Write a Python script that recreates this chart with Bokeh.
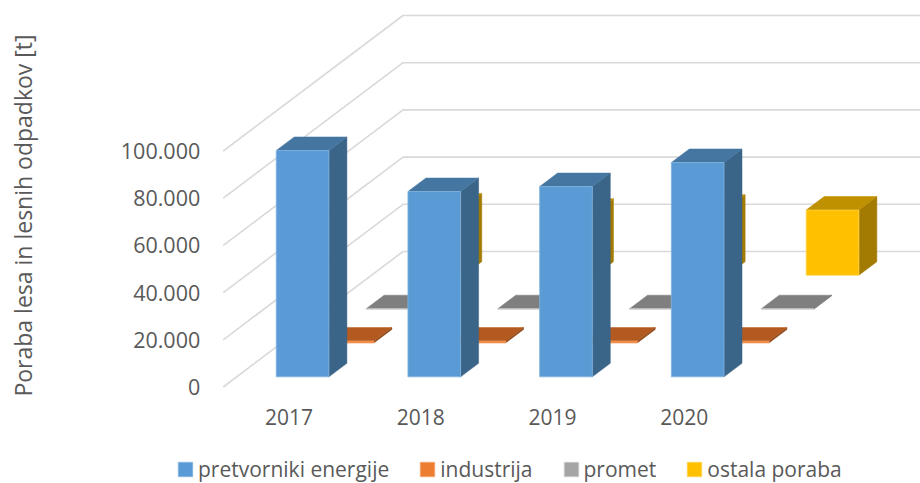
from bokeh.plotting import figure
from bokeh.models import LinearAxis, FixedTicker, Range1d, Legend, LegendItem, Label
from bokeh.embed import file_html
from bokeh.resources import INLINE

years = ["2017", "2018", "2019", "2020"]
series_names = ["pretvorniki energije", "industrija", "promet", "ostala poraba"]
pretvorniki = [95900, 78500, 80600, 90800]
industrija = [800, 800, 800, 800]
promet = [150, 150, 150, 150]
ostala = [28900, 26700, 28400, 27600]
y_ticks = [0, 20000, 40000, 60000, 80000, 100000]
y_tick_labels = ["0", "20.000", "40.000", "60.000", "80.000", "100.000"]
y_title = "Poraba lesa in lesnih odpadkov [t]"

front_colors = ["#5B9BD5", "#ED7D31", "#A5A5A5", "#FFC000"]
top_colors = ["#4576A2", "#B35A20", "#7F7F7F", "#BF9000"]
side_colors = ["#3A6488", "#8F4A1B", "#636363", "#A37B00"]
edge_colors = ["#82B4E0", "#F4A26B", "#C8C8C8", "#FFD34D"]
GRID = "#D9D9D9"
TEXT = "#595959"
FONT = "Open Sans"

W, H = 920, 483
PX_PER_CAT = 131.7
PX_PER_VAL = 0.00236
X0_PX, Y0_PX = 288.6, 386.5
DEPTH_X = 179.8 / PX_PER_CAT
DEPTH_Y = 135.5 / PX_PER_VAL
BAR_W = 0.4
ROW_STEP, ROW_START, ROW_DEPTH = 0.25, 0.075, 0.1
RIGHT = (920 - X0_PX) / PX_PER_CAT

p = figure(width=W, height=H, output_backend="svg", toolbar_location=None,
           x_axis_location=None, y_axis_location=None,
           x_range=Range1d((0 - X0_PX) / PX_PER_CAT, (W - X0_PX) / PX_PER_CAT),
           y_range=Range1d((Y0_PX - H) / PX_PER_VAL, Y0_PX / PX_PER_VAL),
           min_border=0, outline_line_color=None, background_fill_color=None,
           border_fill_color=None)
p.grid.visible = False


def proj(x, v, d):
    return x + d * DEPTH_X, v + d * DEPTH_Y


gx, gy = [], []
for t in y_ticks:
    a = proj(-0.5, t, 0)
    b = proj(-0.5, t, 1)
    gx.append([a[0], b[0], RIGHT])
    gy.append([a[1], b[1], b[1]])
p.multi_line(gx, gy, line_color=GRID, line_width=1.6)

all_series = [pretvorniki, industrija, promet, ostala]
legend_renderers = [None] * 4

for r in range(3, -1, -1):
    d0 = ROW_START + r * ROW_STEP
    d1 = d0 + ROW_DEPTH
    for c, val in enumerate(all_series[r]):
        xl, xr = c - BAR_W / 2, c + BAR_W / 2
        top = [proj(xl, val, d0), proj(xr, val, d0), proj(xr, val, d1), proj(xl, val, d1)]
        side = [proj(xr, 0, d0), proj(xr, 0, d1), proj(xr, val, d1), proj(xr, val, d0)]
        p.patch([q[0] for q in side], [q[1] for q in side], fill_color=side_colors[r],
                line_color=side_colors[r], line_width=0.5)
        p.patch([q[0] for q in top], [q[1] for q in top], fill_color=top_colors[r],
                line_color=top_colors[r], line_width=0.5)
        fx0, fv0 = proj(xl, 0, d0)
        fx1, fv1 = proj(xr, val, d0)
        rend = p.quad(left=[fx0], right=[fx1], bottom=[fv0], top=[fv1],
                      fill_color=front_colors[r], line_color=edge_colors[r], line_width=0.8)
        if legend_renderers[r] is None:
            legend_renderers[r] = rend

y_axis = LinearAxis(fixed_location=-0.5, ticker=FixedTicker(ticks=y_ticks),
                    major_label_overrides=dict(zip(y_ticks, y_tick_labels)),
                    major_tick_line_color=None, minor_tick_line_color=None,
                    axis_line_color=None, major_label_standoff=17,
                    major_label_text_color=TEXT, major_label_text_font=FONT,
                    major_label_text_font_size="21.5px")
p.add_layout(y_axis, "left")

x_ticks = list(range(len(years)))
x_axis = LinearAxis(fixed_location=0, ticker=FixedTicker(ticks=x_ticks),
                    major_label_overrides=dict(zip(x_ticks, years)),
                    major_tick_line_color=None, minor_tick_line_color=None,
                    axis_line_color=None, major_label_standoff=16,
                    major_label_text_color=TEXT, major_label_text_font=FONT,
                    major_label_text_font_size="21px")
p.add_layout(x_axis, "below")

p.add_layout(Label(x=22, y=H - 215, x_units="screen", y_units="screen",
                   text=y_title, angle=90, angle_units="deg",
                   text_align="center", text_baseline="middle",
                   text_color=TEXT, text_font=FONT, text_font_size="23px"))

legend = Legend(items=[LegendItem(label=n, renderers=[rr]) for n, rr in zip(series_names, legend_renderers)],
                orientation="horizontal", location=(176, 0),
                background_fill_alpha=0, border_line_color=None,
                glyph_width=18, glyph_height=18, label_standoff=4, spacing=29,
                padding=0, margin=0,
                label_text_color=TEXT, label_text_font=FONT, label_text_font_size="21px")
p.add_layout(legend)

open("out.html", "w").write(file_html(p, INLINE))
